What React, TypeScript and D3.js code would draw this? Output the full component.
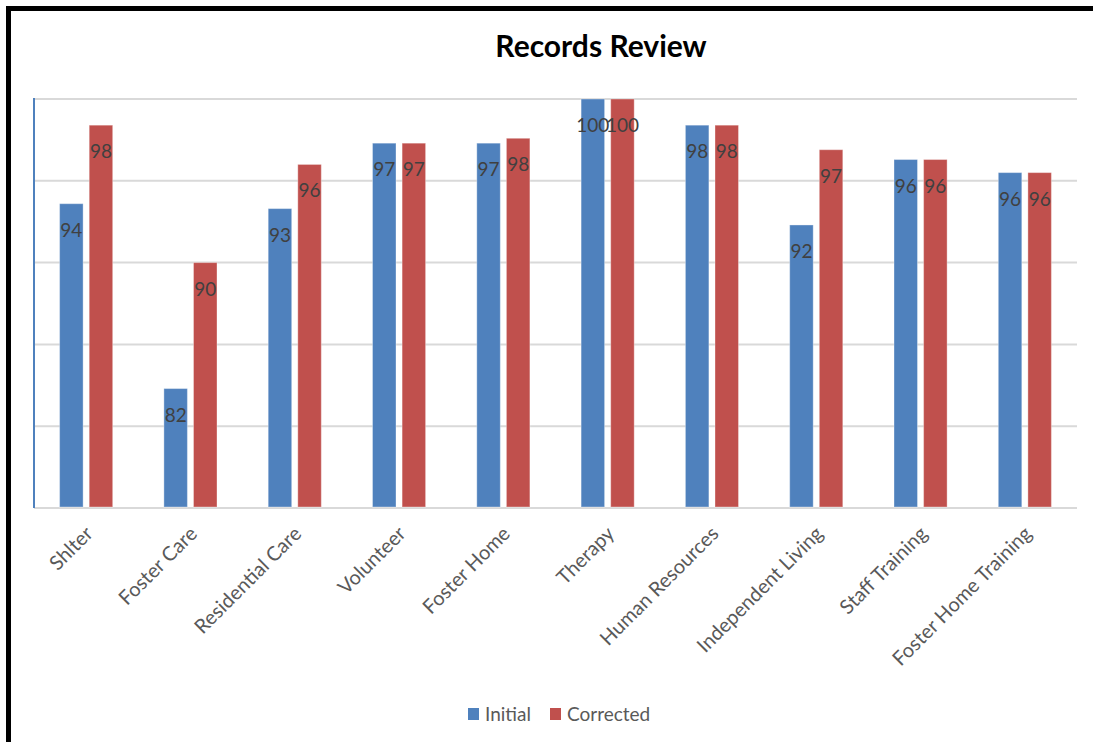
import React from "react";
import * as d3 from "d3";

const categories = [
  "Shlter",
  "Foster Care",
  "Residential Care",
  "Volunteer",
  "Foster Home",
  "Therapy",
  "Human Resources",
  "Independent Living",
  "Staff Training",
  "Foster Home Training",
];
const initialValues = [93.6, 82.3, 93.3, 97.3, 97.3, 100, 98.4, 92.3, 96.3, 95.5];
const correctedValues = [98.4, 90, 96, 97.3, 97.6, 100, 98.4, 96.9, 96.3, 95.5];
const seriesNames = ["Initial", "Corrected"];
const seriesColors = ["#4f81bd", "#c0504d"];
const yTicks = [75, 80, 85, 90, 95, 100];

const W = 1093;
const H = 742;
const FONT = "Lato, 'Open Sans', sans-serif";

export default function App() {
  const plotLeft = 34;
  const plotRight = 1077;
  const plotTop = 99;
  const plotBottom = 508;

  const x = d3.scaleBand<string>().domain(categories).range([plotLeft, plotRight]).padding(0);
  const y = d3.scaleLinear().domain([75, 100]).range([plotBottom, plotTop]);
  const barW = 23.5;
  const offsets = [-14.8, 14.8];
  const series = [initialValues, correctedValues];
  const fmt = d3.format(".0f");

  return (
    <svg
      width={W}
      height={H}
      style={{ position: "absolute", left: 0, top: 0, background: "#fff" }}
      fontFamily={FONT}
    >
      <rect x={0} y={0} width={W} height={H} fill="#fff" />
      {/* screenshot frame */}
      <rect x={6} y={6} width={W - 6} height={5} fill="#000" />
      <rect x={6} y={6} width={5} height={H - 6} fill="#000" />

      <text x={601} y={57} textAnchor="middle" fontSize={30} fontWeight="bold" fill="#000">
        Records Review
      </text>

      {/* gridlines */}
      {yTicks.map((t) => (
        <line
          key={t}
          x1={plotLeft}
          x2={plotRight}
          y1={y(t)}
          y2={y(t)}
          stroke="#d9d9d9"
          strokeWidth={2}
        />
      ))}
      <line x1={plotLeft} x2={plotLeft} y1={plotTop - 1} y2={plotBottom} stroke="#4f81bd" strokeWidth={2} />

      {/* bars */}
      {series.map((vals, si) =>
        vals.map((v, i) => {
          const cx = (x(categories[i]) as number) + x.bandwidth() / 2 + offsets[si];
          return (
            <g key={`${si}-${i}`}>
              <rect
                x={cx - barW / 2}
                y={y(v)}
                width={barW}
                height={plotBottom - 1 - y(v)}
                fill={seriesColors[si]}
                stroke="#ffffff"
                strokeOpacity={0.35}
                strokeWidth={1}
              />
              <text
                x={cx}
                y={y(v) + 33}
                textAnchor="middle"
                fontSize={19}
                fill="#404040"
              >
                {fmt(v)}
              </text>
            </g>
          );
        })
      )}

      {/* x labels */}
      {categories.map((c) => {
        const cx = (x(c) as number) + x.bandwidth() / 2;
        return (
          <text
            key={c}
            transform={`translate(${cx + 3},${530}) rotate(-45)`}
            textAnchor="end"
            dy="0.35em"
            fontSize={20}
            fill="#595959"
          >
            {c}
          </text>
        );
      })}

      {/* legend */}
      {seriesNames.map((s, i) => {
        const lx = [468, 550][i];
        return (
          <g key={s}>
            <rect x={lx} y={708} width={11} height={12} fill={seriesColors[i]} />
            <text x={lx + 17} y={721} fontSize={19} fill="#595959">
              {s}
            </text>
          </g>
        );
      })}
    </svg>
  );
}
